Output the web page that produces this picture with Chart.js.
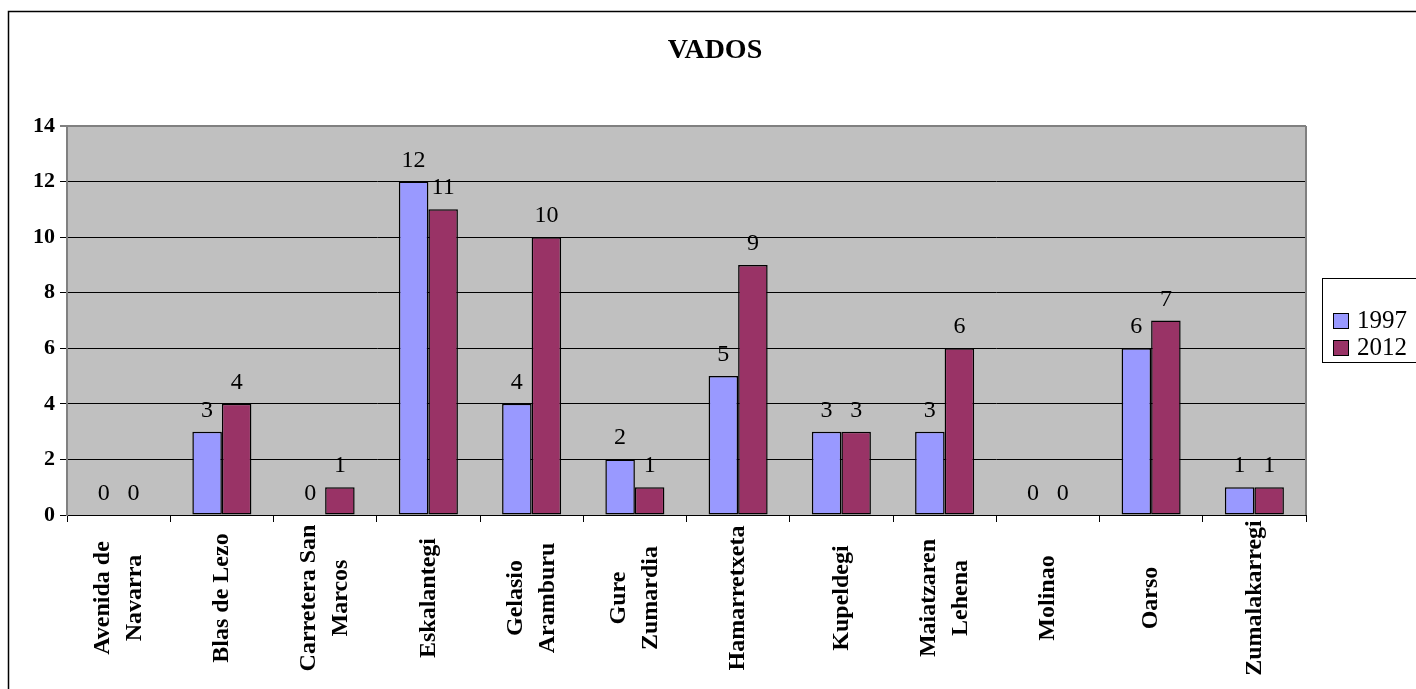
<!DOCTYPE html>
<html>
<head>
<meta charset="utf-8">
<title>VADOS</title>
<script src="https://cdn.jsdelivr.net/npm/chart.js@4.4.1/dist/chart.umd.min.js"></script>
<style>
	html, body { margin: 0; padding: 0; background: #fff; overflow: hidden; }
	#wrap { position: relative; width: 1416px; height: 689px; }
</style>
</head>
<body>
<div id="wrap"><canvas id="vadosChart"></canvas></div>
<script>
const FONT = "'Liberation Serif', 'Times New Roman', serif";

const categories = [
	["Avenida de", "Navarra"],
	["Blas de Lezo"],
	["Carretera San", "Marcos"],
	["Eskalantegi"],
	["Gelasio", "Aramburu"],
	["Gure", "Zumardia"],
	["Hamarretxeta"],
	["Kupeldegi"],
	["Maiatzaren", "Lehena"],
	["Molinao"],
	["Oarso"],
	["Zumalakarregi"],
];
const values1997 = [0, 3, 0, 12, 4, 2, 5, 3, 3, 0, 6, 1];
const values2012 = [0, 4, 1, 11, 10, 1, 9, 3, 6, 0, 7, 1];
const seriesNames = ["1997", "2012"];
const yTicks = [0, 2, 4, 6, 8, 10, 12, 14];

// gray plot background + right edge + outer frame
const framePlugin = {
	id: "frame",
	beforeDraw(chart) {
		const { ctx, chartArea: a } = chart;
		ctx.save();
		ctx.fillStyle = "#C0C0C0";
		ctx.fillRect(a.left, a.top, a.right - a.left, a.bottom - a.top);
		ctx.restore();
	},
	afterDraw(chart) {
		const { ctx, chartArea: a } = chart;
		ctx.save();
		ctx.strokeStyle = "#808080";
		ctx.lineWidth = 2;
		ctx.beginPath();
		ctx.moveTo(a.right, a.top);
		ctx.lineTo(a.right, a.bottom);
		ctx.stroke();
		ctx.strokeStyle = "#000";
		ctx.lineWidth = 1.5;
		ctx.beginPath();
		ctx.moveTo(8.5, 700);
		ctx.lineTo(8.5, 11.5);
		ctx.lineTo(1420, 11.5);
		ctx.stroke();
		ctx.restore();
	},
};

// title, value labels, rotated category labels, legend box
const textPlugin = {
	id: "texts",
	afterDraw(chart) {
		const { ctx } = chart;
		const xs = chart.scales.x;
		ctx.save();

		ctx.fillStyle = "#000";
		ctx.font = "bold 28px " + FONT;
		ctx.textAlign = "center";
		ctx.textBaseline = "middle";
		ctx.fillText("VADOS", 715, 51);

		ctx.font = "24px " + FONT;
		ctx.textBaseline = "alphabetic";
		chart.data.datasets.forEach((ds, di) => {
			const meta = chart.getDatasetMeta(di);
			meta.data.forEach((bar, i) => {
				ctx.fillText(String(ds.data[i]), bar.x, bar.y - 15);
			});
		});

		ctx.font = "bold 24px " + FONT;
		categories.forEach((lines, i) => {
			const x = xs.getPixelForTick(i);
			ctx.save();
			ctx.translate(x, 598);
			ctx.rotate(-Math.PI / 2);
			ctx.textAlign = "center";
			ctx.textBaseline = "middle";
			const gap = 32;
			lines.forEach((t, j) => {
				ctx.fillText(t, 0, (j - (lines.length - 1) / 2) * gap);
			});
			ctx.restore();
		});

		// legend
		ctx.strokeStyle = "#000";
		ctx.lineWidth = 1;
		ctx.strokeRect(1322.5, 278.5, 200, 84);
		ctx.font = "25px " + FONT;
		ctx.textAlign = "left";
		ctx.textBaseline = "middle";
		chart.data.datasets.forEach((ds, di) => {
			const cy = 320 + di * 27;
			ctx.fillStyle = ds.backgroundColor;
			ctx.fillRect(1333, cy - 7, 15, 15);
			ctx.strokeRect(1333.5, cy - 6.5, 15, 15);
			ctx.fillStyle = "#000";
			ctx.fillText(ds.label, 1357, cy + 1);
		});

		ctx.restore();
	},
};

const ctx = document.getElementById("vadosChart").getContext("2d");

function makeDataset(label, data, color) {
	return {
		label: label,
		data: data,
		backgroundColor: color,
		borderColor: "#000",
		borderWidth: 1.5,
		borderSkipped: false,
		barPercentage: 1,
		categoryPercentage: 0.572,
	};
}

new Chart(ctx, {
	type: "bar",
	data: {
		labels: categories,
		datasets: [
			makeDataset(seriesNames[0], values1997, "#9999FF"),
			makeDataset(seriesNames[1], values2012, "#993366"),
		],
	},
	plugins: [framePlugin, textPlugin],
	options: {
		responsive: true,
		maintainAspectRatio: false,
		animation: false,
		layout: {
			padding: { left: 0, top: 126, right: 110, bottom: 0 },
		},
		plugins: {
			legend: { display: false },
			title: { display: false },
			tooltip: { enabled: false },
		},
		scales: {
			x: {
				offset: true,
				ticks: { display: false },
				grid: {
					offset: true,
					drawOnChartArea: false,
					drawTicks: true,
					tickLength: 7,
					color: "#000",
				},
				border: { color: "#000", width: 1 },
				afterFit(scale) {
					scale.height = 174;
				},
			},
			y: {
				min: 0,
				max: 14,
				afterBuildTicks(scale) {
					scale.ticks = yTicks.map((v) => ({ value: v }));
				},
				ticks: {
					color: "#000",
					padding: 5,
					font: { family: FONT, size: 22, weight: "bold" },
				},
				grid: {
					drawTicks: true,
					tickLength: 7,
					color: (c) => (c.tick && c.tick.value === 14 ? "#808080" : "#000"),
					lineWidth: (c) => (c.tick && c.tick.value === 14 ? 2 : 1),
				},
				border: { color: "#808080", width: 2 },
				afterFit(scale) {
					scale.width = 67;
				},
			},
		},
	},
});
</script>
</body>
</html>
